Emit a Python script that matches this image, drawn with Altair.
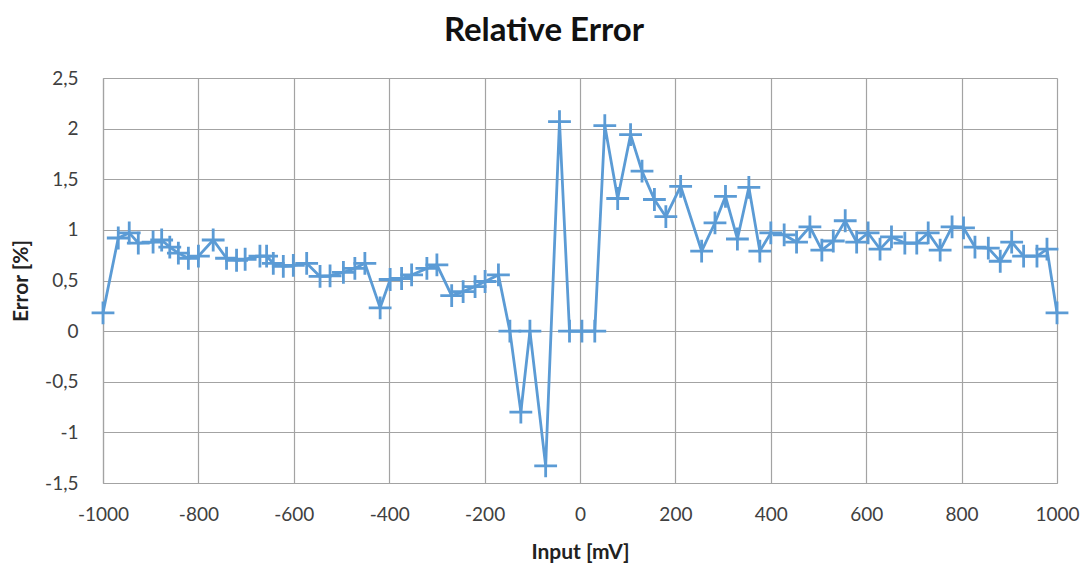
import altair as alt
import pandas as pd

# Input voltage [mV] and relative error [%]
input_mv = [-1000, -968, -945, -926, -895, -877, -860, -842, -821, -800,
            -769, -741, -720, -702, -671, -657, -643, -622, -601, -573,
            -545, -524, -496, -472, -451, -419, -398, -374, -353, -321,
            -300, -269, -245, -220, -199, -171, -147, -124, -105, -72,
            -43, -22, 4, 31, 52, 79, 106, 130, 156, 180,
            211, 255, 283, 305, 330, 354, 377, 400, 428, 454,
            482, 507, 531, 556, 580, 604, 629, 653, 681, 706,
            730, 755, 780, 804, 828, 856, 881, 905, 930, 958,
            979, 1000]
error_pct = [0.18, 0.92, 0.97, 0.87, 0.88, 0.90, 0.83, 0.77, 0.72, 0.74,
             0.90, 0.72, 0.70, 0.71, 0.74, 0.74, 0.67, 0.64, 0.65, 0.67,
             0.54, 0.545, 0.58, 0.62, 0.67, 0.23, 0.51, 0.52, 0.555, 0.62,
             0.655, 0.35, 0.39, 0.44, 0.49, 0.555, 0.0, -0.80, 0.0, -1.33,
             2.07, 0.0, 0.0, 0.0, 2.03, 1.31, 1.94, 1.58, 1.30, 1.13,
             1.43, 0.79, 1.07, 1.33, 0.91, 1.42, 0.79, 0.97, 0.95, 0.88,
             1.03, 0.80, 0.89, 1.09, 0.88, 0.97, 0.81, 0.93, 0.87, 0.87,
             0.97, 0.80, 1.03, 1.02, 0.83, 0.82, 0.69, 0.88, 0.74, 0.74,
             0.81, 0.18]

x_ticks = list(range(-1000, 1001, 200))
y_ticks = [-1.5, -1.0, -0.5, 0.0, 0.5, 1.0, 1.5, 2.0, 2.5]

df = pd.DataFrame({"x": input_mv, "y": error_pct})

FONT = "Lato"
GRID = "#a3a3a3"
BLUE = "#5b9bd5"
LBL = "replace(toString(datum.value), '.', ',')"

x_enc = alt.X("x:Q",
              scale=alt.Scale(domain=[-1000, 1000], nice=False, zero=False),
              axis=alt.Axis(values=x_ticks, title="Input [mV]", labelExpr=LBL,
                            grid=True, gridColor=GRID, gridWidth=1.2,
                            domainColor=GRID, domainWidth=1.2, ticks=False,
                            labelFlush=False, labelOverlap=False,
                            labelPadding=22, labelFontSize=19, labelColor="#404040",
                            labelFont=FONT, titleFont=FONT, titleFontSize=21,
                            titleFontWeight="bold", titleColor="#222222",
                            titlePadding=17))
y_enc = alt.Y("y:Q",
              scale=alt.Scale(domain=[-1.5, 2.5], nice=False, zero=False),
              axis=alt.Axis(values=y_ticks, title="Error [%]", labelExpr=LBL,
                            grid=True, gridColor=GRID, gridWidth=1.2,
                            domainColor=GRID, domainWidth=1.2, ticks=False,
                            labelFlush=False, labelOverlap=False,
                            labelPadding=25, labelFontSize=19, labelColor="#404040",
                            labelFont=FONT, titleFont=FONT, titleFontSize=21,
                            titleFontWeight="bold", titleColor="#222222",
                            titlePadding=13))

line = alt.Chart(df).mark_line(color=BLUE, strokeWidth=2.8).encode(x=x_enc, y=y_enc)
pts = alt.Chart(df).mark_point(shape="M-1,0L1,0M0,-1L0,1", size=520, filled=False,
                               color=BLUE, strokeWidth=2.8, opacity=1).encode(x="x:Q", y="y:Q")

chart = (line + pts).properties(
    width=954, height=405,
    title=alt.TitleParams("Relative Error", font=FONT, fontSize=33, fontWeight="bold",
                          color="#111111", anchor="middle", dx=-36, offset=21),
    autosize=alt.AutoSizeParams(type="none"),
    padding={"left": 103, "top": 78, "right": 31, "bottom": 82},
).configure_view(stroke=GRID, strokeWidth=1.2).configure(background="white")

chart.save("out.html", embed_options={"renderer": "svg", "actions": False})
